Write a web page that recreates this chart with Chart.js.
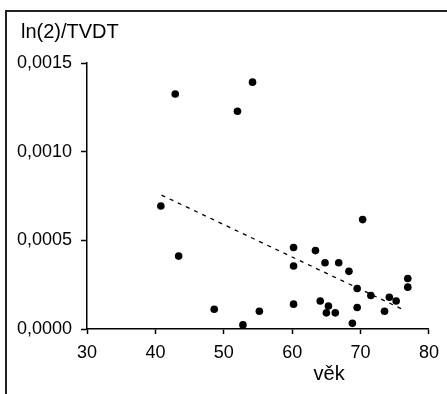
<!DOCTYPE html>
<html>
<head>
<meta charset="utf-8">
<script src="https://cdn.jsdelivr.net/npm/chart.js@4"></script>
<style>
  body { margin: 0; background: #fff; }
  #obal { position: relative; width: 447px; height: 394px; overflow: hidden; }
  #ramecek { position: absolute; left: 5px; top: 10px; right: -10px; bottom: -10px;
             border-left: 2px solid #222; border-top: 2px solid #222; pointer-events: none; }
  canvas { position: absolute; left: 0; top: 0; }
</style>
</head>
<body>
<div id="obal">
  <canvas id="graf" width="447" height="394"></canvas>
  <div id="ramecek"></div>
</div>
<script>
// data
const vek = [40.8, 42.9, 43.4, 48.6, 52.0, 52.8, 54.2, 55.2, 60.2, 60.2, 60.2, 63.4, 64.1, 64.8, 65.3,
             65.0, 66.3, 66.8, 68.3, 68.8, 69.5, 69.5, 70.3, 71.5, 73.5, 74.2, 75.2, 76.9, 76.9];
const hodnoty = [0.000694, 0.001325, 0.000411, 0.000111, 0.001228, 0.000023, 0.001392, 0.000100,
                 0.000460, 0.000355, 0.000140, 0.000442, 0.000158, 0.000374, 0.000130, 0.000091,
                 0.000091, 0.000374, 0.000325, 0.000032, 0.000228, 0.000121, 0.000617, 0.000189,
                 0.000100, 0.000179, 0.000158, 0.000285, 0.000236];
// lineární trend
const trendX = [40.9, 76.3];
const trendY = [0.000755, 0.000108];

const osaX = { min: 30, max: 80, krok: 10 };
const osaY = { min: 0, max: 0.0015, krok: 0.0005 };

const pismo = 'Arial, "Liberation Sans", sans-serif';

// názvy os (nejsou na standardních místech, proto vlastní plugin)
const popisky = {
  id: 'popisky',
  afterDraw(chart) {
    const ctx = chart.ctx;
    const area = chart.chartArea;
    ctx.save();
    ctx.font = '20px ' + pismo;
    ctx.fillStyle = '#000';
    ctx.textBaseline = 'middle';
    ctx.textAlign = 'left';
    ctx.fillText('ln(2)/TVDT', area.left - 66, area.top - 31);
    ctx.textAlign = 'center';
    ctx.fillText('věk', chart.scales.x.getPixelForValue(65.4), area.bottom + 45);
    ctx.restore();
  }
};

const ctx = document.getElementById('graf').getContext('2d');
new Chart(ctx, {
  type: 'scatter',
  data: {
    datasets: [{
      data: vek.map((v, i) => ({ x: v, y: hodnoty[i] })),
      backgroundColor: '#000',
      borderWidth: 0,
      pointRadius: 3.8
    }, {
      type: 'line',
      data: trendX.map((v, i) => ({ x: v, y: trendY[i] })),
      borderColor: '#000',
      borderWidth: 1.3,
      borderDash: [4, 5],
      pointRadius: 0,
      fill: false
    }]
  },
  options: {
    responsive: false,
    animation: false,
    layout: { padding: { left: 10, right: 11, top: 63, bottom: 0 } },
    plugins: {
      legend: { display: false },
      tooltip: { enabled: false },
      title: { display: false }
    },
    scales: {
      x: {
        type: 'linear',
        min: osaX.min, max: osaX.max,
        afterFit(s) { s.height = 65; },
        border: { color: '#000', width: 1.5 },
        grid: { drawOnChartArea: false, drawTicks: true, tickLength: 5, color: '#000', tickWidth: 1.5 },
        ticks: { stepSize: osaX.krok, color: '#000', padding: 8, maxRotation: 0,
                 font: { family: pismo, size: 18 } }
      },
      y: {
        min: osaY.min, max: osaY.max,
        afterFit(s) { s.width = 77; },
        border: { color: '#000', width: 1.5 },
        grid: { drawOnChartArea: false, drawTicks: true, tickLength: 6, color: '#000', tickWidth: 1.5 },
        ticks: { stepSize: osaY.krok, color: '#000', padding: 9,
                 font: { family: pismo, size: 18 },
                 callback: v => v.toFixed(4).replace('.', ',') }
      }
    }
  },
  plugins: [popisky]
});
</script>
</body>
</html>
